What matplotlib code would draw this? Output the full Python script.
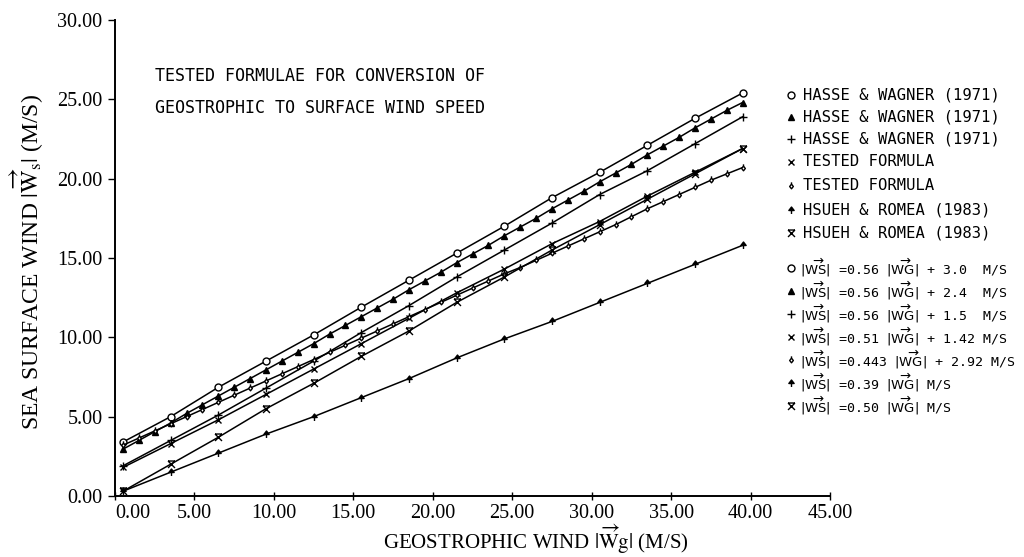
import matplotlib
matplotlib.use("Agg")
import matplotlib.pyplot as plt
from matplotlib.path import Path
from matplotlib.lines import Line2D

# ---------------- data ----------------
x_sparse = [0.5, 3.5, 6.5, 9.5, 12.5, 15.5, 18.5, 21.5, 24.5, 27.5, 30.5, 33.5, 36.5, 39.5]
x_dense = [0.5, 1.5, 2.5, 3.5, 4.5, 5.5, 6.5, 7.5, 8.5, 9.5,
           10.5, 11.5, 12.5, 13.5, 14.5, 15.5, 16.5, 17.5, 18.5, 19.5,
           20.5, 21.5, 22.5, 23.5, 24.5, 25.5, 26.5, 27.5, 28.5, 29.5,
           30.5, 31.5, 32.5, 33.5, 34.5, 35.5, 36.5, 37.5, 38.5, 39.5]

hasse_30 = [3.4, 5.0, 6.85, 8.5, 10.15, 11.9, 13.6, 15.3, 17.0, 18.8, 20.4, 22.1, 23.8, 25.4]
hasse_24 = [2.95, 3.5, 4.05, 4.6, 5.2, 5.75, 6.3, 6.85, 7.4, 7.95,
            8.5, 9.05, 9.6, 10.2, 10.75, 11.3, 11.85, 12.4, 13.0, 13.55,
            14.1, 14.7, 15.25, 15.8, 16.4, 16.95, 17.5, 18.1, 18.65, 19.2,
            19.8, 20.35, 20.9, 21.5, 22.05, 22.6, 23.2, 23.75, 24.3, 24.8]
hasse_15 = [1.9, 3.5, 5.1, 6.8, 8.5, 10.3, 12.0, 13.8, 15.5, 17.2, 19.0, 20.5, 22.2, 23.9]
tested_a = [1.8, 3.3, 4.8, 6.4, 8.0, 9.6, 11.2, 12.8, 14.3, 15.9, 17.3, 18.9, 20.4, 21.9]
tested_b = [3.2, 3.65, 4.1, 4.55, 5.0, 5.45, 5.9, 6.35, 6.8, 7.25,
            7.7, 8.15, 8.6, 9.05, 9.5, 9.95, 10.4, 10.85, 11.3, 11.75,
            12.2, 12.65, 13.1, 13.55, 14.0, 14.4, 14.85, 15.3, 15.75, 16.2,
            16.65, 17.1, 17.6, 18.1, 18.55, 19.0, 19.45, 19.9, 20.3, 20.7]
hsueh_39 = [0.3, 1.5, 2.7, 3.9, 5.0, 6.2, 7.4, 8.7, 9.9, 11.0, 12.2, 13.4, 14.6, 15.8]
hsueh_50 = [0.3, 2.0, 3.7, 5.5, 7.1, 8.8, 10.4, 12.2, 13.8, 15.5, 17.1, 18.7, 20.3, 21.9]

names = ["HASSE & WAGNER (1971)", "HASSE & WAGNER (1971)", "HASSE & WAGNER (1971)",
         "TESTED FORMULA", "TESTED FORMULA", "HSUEH & ROMEA (1983)", "HSUEH & ROMEA (1983)"]
ws = r"$|\overrightarrow{\mathrm{WS}}|$"
wg = r"$|\overrightarrow{\mathrm{WG}}|$"
formulas = [ws + " =0.56 " + wg + " + 3.0  M/S",
            ws + " =0.56 " + wg + " + 2.4  M/S",
            ws + " =0.56 " + wg + " + 1.5  M/S",
            ws + " =0.51 " + wg + " + 1.42 M/S",
            ws + " =0.443 " + wg + " + 2.92 M/S",
            ws + " =0.39 " + wg + " M/S",
            ws + " =0.50 " + wg + " M/S"]

x_ticks = [0, 5, 10, 15, 20, 25, 30, 35, 40, 45]
y_ticks = [0, 5, 10, 15, 20, 25, 30]

# ---------------- markers ----------------
M, L, C = Path.MOVETO, Path.LINETO, Path.CLOSEPOLY
diamond_stem = Path([(0, -1), (0.8, 0), (0, 1), (-0.8, 0), (0, -1), (0, 1), (0, 1.8)],
                    [M, L, L, L, C, M, L])
arrow_up = Path([(-1, 0), (0, 1.3), (1, 0), (-1, 0), (0, 0), (0, -1.3)],
                [M, L, L, C, M, L])
hourglass = Path([(-1, -1), (1, 1), (-1, 1), (1, -1), (-1, 1), (1, 1)],
                 [M, L, M, L, M, L])

series = [
    (x_sparse, hasse_30, dict(marker="o", mfc="white", ms=5)),
    (x_dense, hasse_24, dict(marker="^", mfc="black", ms=4)),
    (x_sparse, hasse_15, dict(marker="+", ms=6)),
    (x_sparse, tested_a, dict(marker="x", ms=5)),
    (x_dense, tested_b, dict(marker=diamond_stem, mfc="white", ms=6)),
    (x_sparse, hsueh_39, dict(marker=arrow_up, mfc="black", ms=5)),
    (x_sparse, hsueh_50, dict(marker=hourglass, mfc="none", ms=5)),
]

# ---------------- figure ----------------
fig = plt.figure(figsize=(10.24, 5.57), dpi=100)
ax = fig.add_axes([115 / 1024, 1 - 496 / 557, 715 / 1024, 476 / 557])

for xs, ys, st in series:
    ax.plot(xs, ys, color="black", lw=1.1, mec="black", mew=1.0, **st)

ax.set_xlim(0, 45)
ax.set_ylim(0, 30)
for s in ("top", "right"):
    ax.spines[s].set_visible(False)
ax.spines["left"].set_linewidth(1.4)
ax.spines["bottom"].set_linewidth(1.4)

serif = ["Liberation Serif", "DejaVu Serif"]
ax.set_xticks(x_ticks)
ax.set_yticks(y_ticks)
ax.set_xticklabels(["%.2f" % v for v in x_ticks], family=serif, fontsize=14.5)
ax.set_yticklabels(["%.2f" % v for v in y_ticks], family=serif, fontsize=14.5)
ax.get_xticklabels()[0].set_horizontalalignment("left")
ax.tick_params(axis="x", direction="inout", length=6, width=1.0, pad=3)
ax.tick_params(axis="y", direction="out", length=5, width=1.0, pad=4)

xl = ax.set_xlabel(r"GEOSTROPHIC WIND $|\overrightarrow{\mathrm{W}}\mathrm{g}|$ (M/S)",
                   family=serif, fontsize=15, math_fontfamily="stix")
xl.set_verticalalignment("center")
ax.xaxis.set_label_coords((536 - 115) / 715, (496 - 539) / 476)
yl = ax.set_ylabel(r"SEA SURFACE WIND $|\overrightarrow{\mathrm{W}}_{\mathrm{s}}|$ (M/S)",
                   family=serif, fontsize=17, math_fontfamily="stix")
yl.set_verticalalignment("center")
ax.yaxis.set_label_coords((27 - 115) / 715, (496 - 262) / 476)

mono = ["DejaVu Sans Mono"]
fig.text(155 / 1024, 1 - 76 / 557, "TESTED FORMULAE FOR CONVERSION OF",
         family=mono, fontsize=12, va="center", ha="left")
fig.text(155 / 1024, 1 - 108 / 557, "GEOSTROPHIC TO SURFACE WIND SPEED",
         family=mono, fontsize=12, va="center", ha="left")

# ---------------- legend (manual) ----------------
name_rows = [95, 117, 139, 162, 186, 210, 233]
form_rows = [268, 291, 314, 337, 360, 383, 406]
for (xs, ys, st), nm, fm, r1, r2 in zip(series, names, formulas, name_rows, form_rows):
    for r in (r1, r2):
        fig.add_artist(Line2D([791 / 1024], [1 - r / 557], transform=fig.transFigure,
                              color="black", mec="black", mew=1.0, ls="none", **st))
    fig.text(803 / 1024, 1 - r1 / 557, nm, family=mono, fontsize=11.2, va="center", ha="left")
    fig.text(800 / 1024, 1 - r2 / 557, fm, family=mono, fontsize=9.5, va="center", ha="left",
             math_fontfamily="dejavusans")

fig.savefig("out.png", dpi=100)
